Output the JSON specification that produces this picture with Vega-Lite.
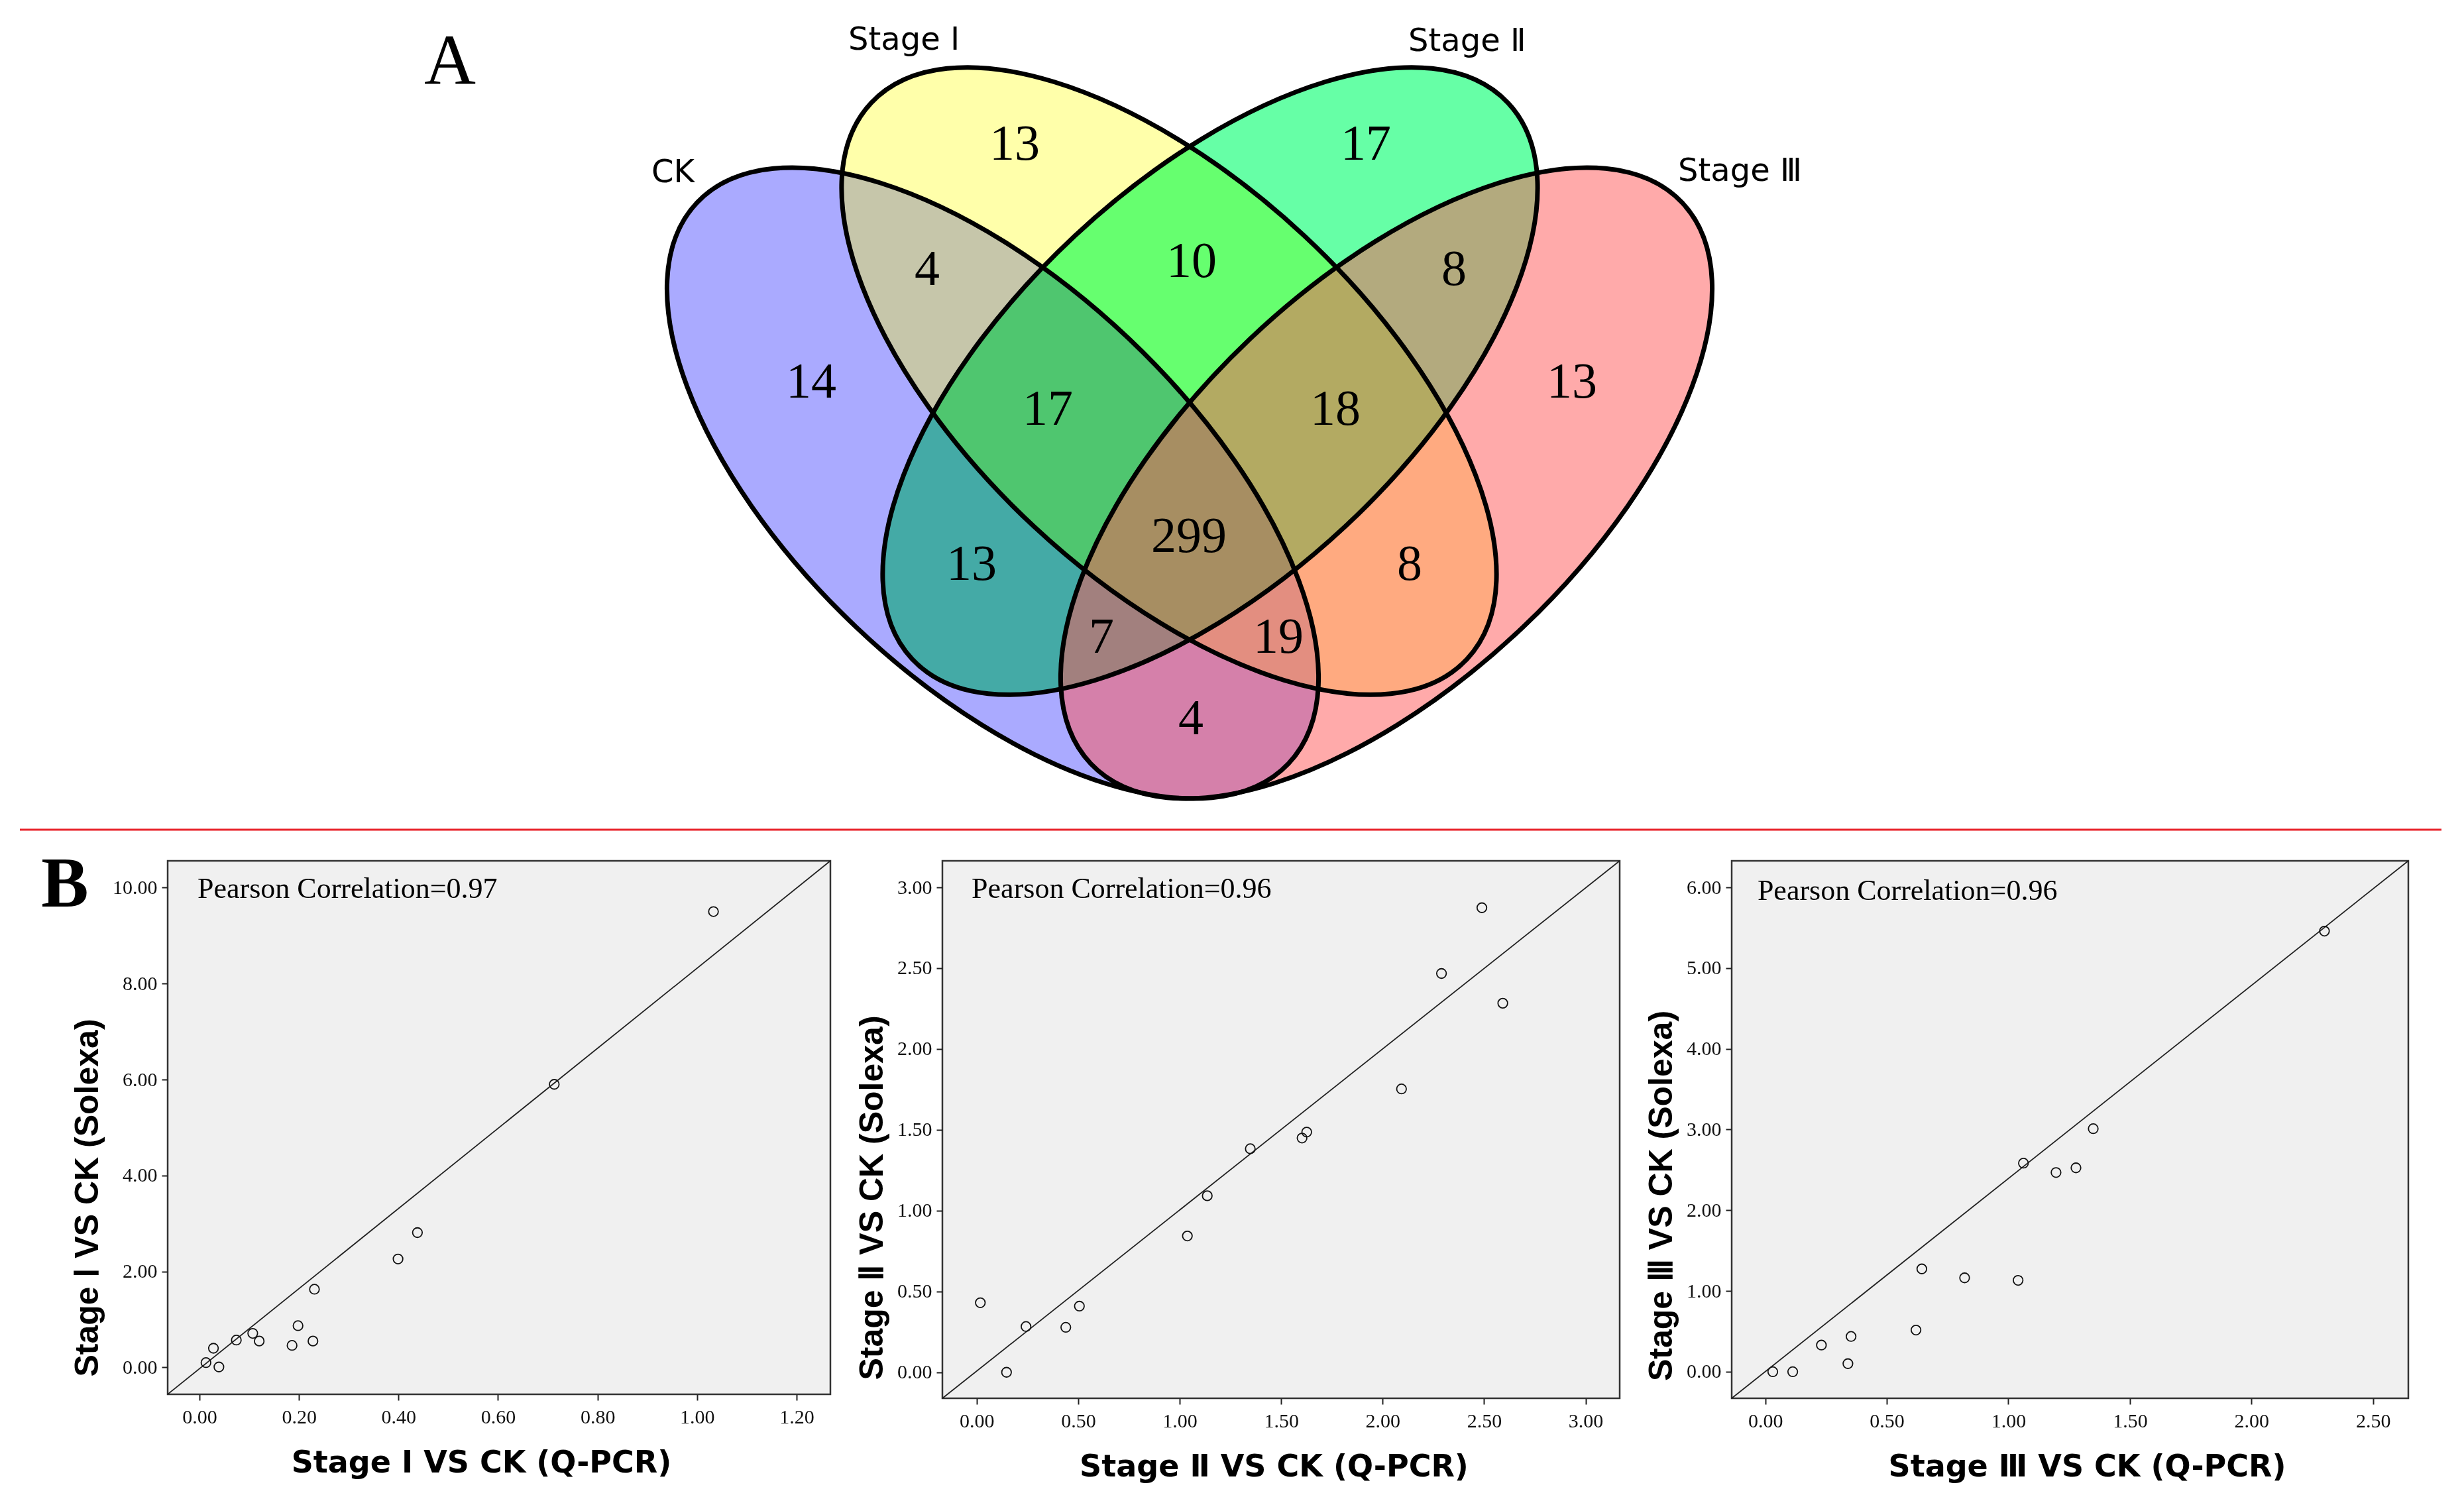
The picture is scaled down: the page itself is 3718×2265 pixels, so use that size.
{
  "$schema": "https://vega.github.io/schema/vega-lite/v6.json",
  "background": "white",
  "padding": {"left": 28, "top": 0, "right": 0, "bottom": 0},
  "spacing": 23,
  "datasets": {
    "sets": [
      {"set": "CK", "cx": -2.97, "cy": -0.79, "tilt": 43.5, "lx": -8.12, "ly": 3.75},
      {"set": "Stage Ⅰ", "cx": -0.31, "cy": 0.75, "tilt": 43, "lx": -5.15, "ly": 5.75},
      {"set": "Stage Ⅱ", "cx": 0.31, "cy": 0.75, "tilt": 317, "lx": 3.3, "ly": 5.73},
      {"set": "Stage Ⅲ", "cx": 2.97, "cy": -0.79, "tilt": 316.5, "lx": 7.37, "ly": 3.77}
    ],
    "regions": [
      {"count": 13, "rx": -2.64, "ry": 4.32},
      {"count": 17, "rx": 2.66, "ry": 4.32},
      {"count": 4, "rx": -3.96, "ry": 2.43},
      {"count": 10, "rx": 0.03, "ry": 2.55},
      {"count": 8, "rx": 3.99, "ry": 2.43},
      {"count": 14, "rx": -5.71, "ry": 0.73},
      {"count": 13, "rx": 5.77, "ry": 0.73},
      {"count": 17, "rx": -2.14, "ry": 0.32},
      {"count": 18, "rx": 2.2, "ry": 0.32},
      {"count": 299, "rx": -0.01, "ry": -1.6},
      {"count": 13, "rx": -3.29, "ry": -2.02},
      {"count": 8, "rx": 3.32, "ry": -2.02},
      {"count": 7, "rx": -1.33, "ry": -3.12},
      {"count": 19, "rx": 1.34, "ry": -3.12},
      {"count": 4, "rx": 0.02, "ry": -4.35}
    ],
    "p1": [
      {"qpcr": 1.033, "solexa": 9.5}, {"qpcr": 0.713, "solexa": 5.9}, {"qpcr": 0.438, "solexa": 2.81},
      {"qpcr": 0.399, "solexa": 2.26}, {"qpcr": 0.231, "solexa": 1.63}, {"qpcr": 0.198, "solexa": 0.87},
      {"qpcr": 0.107, "solexa": 0.71}, {"qpcr": 0.074, "solexa": 0.57}, {"qpcr": 0.12, "solexa": 0.55},
      {"qpcr": 0.186, "solexa": 0.46}, {"qpcr": 0.228, "solexa": 0.55}, {"qpcr": 0.028, "solexa": 0.4},
      {"qpcr": 0.013, "solexa": 0.1}, {"qpcr": 0.039, "solexa": 0.01}
    ],
    "p2": [
      {"qpcr": 0.018, "solexa": 0.43}, {"qpcr": 0.147, "solexa": 0.0}, {"qpcr": 0.243, "solexa": 0.283},
      {"qpcr": 0.439, "solexa": 0.278}, {"qpcr": 0.506, "solexa": 0.409}, {"qpcr": 1.038, "solexa": 0.843},
      {"qpcr": 1.136, "solexa": 1.092}, {"qpcr": 1.348, "solexa": 1.383}, {"qpcr": 1.603, "solexa": 1.449},
      {"qpcr": 1.626, "solexa": 1.486}, {"qpcr": 2.093, "solexa": 1.753}, {"qpcr": 2.29, "solexa": 2.467},
      {"qpcr": 2.489, "solexa": 2.874}, {"qpcr": 2.592, "solexa": 2.283}
    ],
    "p3": [
      {"qpcr": 0.031, "solexa": 0.0}, {"qpcr": 0.113, "solexa": 0.0}, {"qpcr": 0.231, "solexa": 0.33},
      {"qpcr": 0.34, "solexa": 0.1}, {"qpcr": 0.353, "solexa": 0.437}, {"qpcr": 0.62, "solexa": 0.516},
      {"qpcr": 0.644, "solexa": 1.274}, {"qpcr": 0.82, "solexa": 1.163}, {"qpcr": 1.04, "solexa": 1.132},
      {"qpcr": 1.062, "solexa": 2.584}, {"qpcr": 1.196, "solexa": 2.468}, {"qpcr": 1.278, "solexa": 2.526},
      {"qpcr": 1.349, "solexa": 3.011}, {"qpcr": 2.3, "solexa": 5.458}
    ]
  },
  "vconcat": [
    {
      "width": 3467,
      "height": 1258,
      "view": {"stroke": null},
      "layer": [
        {
          "data": {"name": "sets"},
          "transform": [{"filter": {"field": "set", "equal": "CK"}}],
          "mark": {"type": "point", "shape": "M 1 0 C 1 0.2690 0.5523 0.487 0 0.487 C -0.5523 0.487 -1 0.2690 -1 0 C -1 -0.2690 -0.5523 -0.487 0 -0.487 C 0.5523 -0.487 1 -0.2690 1 0 Z", "size": 1512900, "filled": true, "fill": "#0000ff", "fillOpacity": 0.3333, "strokeWidth": 0, "opacity": 1},
          "encoding": {
            "x": {"field": "cx", "type": "quantitative", "scale": {"domain": [-15.42, 19.25], "nice": false, "zero": false}, "axis": null},
            "y": {"field": "cy", "type": "quantitative", "scale": {"domain": [-6.08, 6.5], "nice": false, "zero": false}, "axis": null},
            "angle": {"field": "tilt", "type": "quantitative", "scale": null}
          }
        },
        {
          "data": {"name": "sets"},
          "transform": [{"filter": {"field": "set", "equal": "Stage Ⅰ"}}],
          "mark": {"type": "point", "shape": "M 1 0 C 1 0.2690 0.5523 0.487 0 0.487 C -0.5523 0.487 -1 0.2690 -1 0 C -1 -0.2690 -0.5523 -0.487 0 -0.487 C 0.5523 -0.487 1 -0.2690 1 0 Z", "size": 1512900, "filled": true, "fill": "#ffff00", "fillOpacity": 0.3333, "strokeWidth": 0, "opacity": 1},
          "encoding": {
            "x": {"field": "cx", "type": "quantitative", "scale": {"domain": [-15.42, 19.25], "nice": false, "zero": false}, "axis": null},
            "y": {"field": "cy", "type": "quantitative", "scale": {"domain": [-6.08, 6.5], "nice": false, "zero": false}, "axis": null},
            "angle": {"field": "tilt", "type": "quantitative", "scale": null}
          }
        },
        {
          "data": {"name": "sets"},
          "transform": [{"filter": {"field": "set", "equal": "Stage Ⅱ"}}],
          "mark": {"type": "point", "shape": "M 1 0 C 1 0.2690 0.5523 0.487 0 0.487 C -0.5523 0.487 -1 0.2690 -1 0 C -1 -0.2690 -0.5523 -0.487 0 -0.487 C 0.5523 -0.487 1 -0.2690 1 0 Z", "size": 1512900, "filled": true, "fill": "#66ffa6", "fillOpacity": 1, "blend": "multiply", "strokeWidth": 0, "opacity": 1},
          "encoding": {
            "x": {"field": "cx", "type": "quantitative", "scale": {"domain": [-15.42, 19.25], "nice": false, "zero": false}, "axis": null},
            "y": {"field": "cy", "type": "quantitative", "scale": {"domain": [-6.08, 6.5], "nice": false, "zero": false}, "axis": null},
            "angle": {"field": "tilt", "type": "quantitative", "scale": null}
          }
        },
        {
          "data": {"name": "sets"},
          "transform": [{"filter": {"field": "set", "equal": "Stage Ⅲ"}}],
          "mark": {"type": "point", "shape": "M 1 0 C 1 0.2690 0.5523 0.487 0 0.487 C -0.5523 0.487 -1 0.2690 -1 0 C -1 -0.2690 -0.5523 -0.487 0 -0.487 C 0.5523 -0.487 1 -0.2690 1 0 Z", "size": 1512900, "filled": true, "fill": "#ff5555", "fillOpacity": 0.5, "strokeWidth": 0, "opacity": 1},
          "encoding": {
            "x": {"field": "cx", "type": "quantitative", "scale": {"domain": [-15.42, 19.25], "nice": false, "zero": false}, "axis": null},
            "y": {"field": "cy", "type": "quantitative", "scale": {"domain": [-6.08, 6.5], "nice": false, "zero": false}, "axis": null},
            "angle": {"field": "tilt", "type": "quantitative", "scale": null}
          }
        },
        {
          "data": {"name": "sets"},
          "mark": {"type": "point", "shape": "M 1 0 C 1 0.2690 0.5523 0.487 0 0.487 C -0.5523 0.487 -1 0.2690 -1 0 C -1 -0.2690 -0.5523 -0.487 0 -0.487 C 0.5523 -0.487 1 -0.2690 1 0 Z", "size": 1512900, "filled": false, "stroke": "#000000", "strokeWidth": 7, "opacity": 1},
          "encoding": {
            "x": {"field": "cx", "type": "quantitative", "scale": {"domain": [-15.42, 19.25], "nice": false, "zero": false}, "axis": null},
            "y": {"field": "cy", "type": "quantitative", "scale": {"domain": [-6.08, 6.5], "nice": false, "zero": false}, "axis": null},
            "angle": {"field": "tilt", "type": "quantitative", "scale": null}
          }
        },
        {
          "data": {"name": "regions"},
          "mark": {"type": "text", "font": "Liberation Serif", "fontSize": 76, "align": "center", "baseline": "middle", "color": "#000000"},
          "encoding": {
            "x": {"field": "rx", "type": "quantitative", "scale": {"domain": [-15.42, 19.25], "nice": false, "zero": false}, "axis": null},
            "y": {"field": "ry", "type": "quantitative", "scale": {"domain": [-6.08, 6.5], "nice": false, "zero": false}, "axis": null},
            "text": {"field": "count", "type": "quantitative"}
          }
        },
        {
          "data": {"name": "sets"},
          "mark": {"type": "text", "font": "DejaVu Sans", "fontSize": 48, "align": "left", "baseline": "alphabetic", "color": "#000000"},
          "encoding": {
            "x": {"field": "lx", "type": "quantitative", "scale": {"domain": [-15.42, 19.25], "nice": false, "zero": false}, "axis": null},
            "y": {"field": "ly", "type": "quantitative", "scale": {"domain": [-6.08, 6.5], "nice": false, "zero": false}, "axis": null},
            "text": {"field": "set", "type": "nominal"}
          }
        },
        {
          "data": {"values": [{"label": "A"}]},
          "mark": {"type": "text", "font": "Liberation Serif", "fontSize": 108, "align": "left", "baseline": "alphabetic", "color": "#000000"},
          "encoding": {
            "x": {"datum": -11.55, "type": "quantitative", "scale": {"domain": [-15.42, 19.25], "nice": false, "zero": false}, "axis": null},
            "y": {"datum": 5.23, "type": "quantitative", "scale": {"domain": [-6.08, 6.5], "nice": false, "zero": false}, "axis": null},
            "text": {"field": "label", "type": "nominal"}
          }
        },
        {
          "data": {"values": [{}]},
          "mark": {"type": "rule", "color": "#e8232b", "strokeWidth": 3},
          "encoding": {
            "x": {"datum": -17.65, "type": "quantitative", "scale": {"domain": [-15.42, 19.25], "nice": false, "zero": false}, "axis": null},
            "x2": {"datum": 18.89},
            "y": {"datum": -6.02, "type": "quantitative", "scale": {"domain": [-6.08, 6.5], "nice": false, "zero": false}, "axis": null}
          }
        }
      ]
    },
    {
      "hconcat": [
        {
          "width": 1000,
          "height": 805,
          "view": {"fill": "#f0f0f0", "stroke": "#333333", "strokeWidth": 2.5},
          "layer": [
            {
              "data": {"values": [{}]},
              "mark": {"type": "rule", "color": "#222222", "strokeWidth": 1.8},
              "encoding": {
                "x": {"datum": -0.064, "type": "quantitative", "scale": {"domain": [-0.064, 1.268], "nice": false, "zero": false}},
                "y": {"datum": -0.56, "type": "quantitative", "scale": {"domain": [-0.56, 10.558], "nice": false, "zero": false}},
                "x2": {"datum": 1.268},
                "y2": {"datum": 10.558}
              }
            },
            {
              "data": {"name": "p1"},
              "mark": {"type": "point", "shape": "circle", "filled": false, "stroke": "#111111", "strokeWidth": 1.8, "size": 210, "opacity": 1},
              "encoding": {
                "x": {"field": "qpcr", "type": "quantitative", "scale": {"domain": [-0.064, 1.268], "nice": false, "zero": false},
                  "axis": {"title": "Stage Ⅰ VS CK (Q-PCR)", "values": [0, 0.2, 0.4, 0.6, 0.8, 1.0, 1.2], "format": ".2f", "titleX": 473}},
                "y": {"field": "solexa", "type": "quantitative", "scale": {"domain": [-0.56, 10.558], "nice": false, "zero": false},
                  "axis": {"title": "Stage Ⅰ VS CK (Solexa)", "values": [0, 2, 4, 6, 8, 10], "format": ".2f", "titleY": 508}}
              }
            },
            {
              "data": {"values": [{"label": "Pearson Correlation=0.97"}]},
              "mark": {"type": "text", "font": "Liberation Serif", "fontSize": 44, "align": "left", "baseline": "alphabetic", "color": "#000000"},
              "encoding": {
                "x": {"datum": -0.004, "type": "quantitative", "scale": {"domain": [-0.064, 1.268], "nice": false, "zero": false}},
                "y": {"datum": 9.78, "type": "quantitative", "scale": {"domain": [-0.56, 10.558], "nice": false, "zero": false}},
                "text": {"field": "label", "type": "nominal"}
              }
            },
            {
              "data": {"values": [{"label": "B"}]},
              "mark": {"type": "text", "font": "Liberation Serif", "fontSize": 107, "fontWeight": "bold", "align": "left", "baseline": "alphabetic", "color": "#000000"},
              "encoding": {
                "x": {"datum": -0.318, "type": "quantitative", "scale": {"domain": [-0.064, 1.268], "nice": false, "zero": false}},
                "y": {"datum": 9.6, "type": "quantitative", "scale": {"domain": [-0.56, 10.558], "nice": false, "zero": false}},
                "text": {"field": "label", "type": "nominal"}
              }
            }
          ]
        },
        {
          "width": 1022,
          "height": 811,
          "view": {"fill": "#f0f0f0", "stroke": "#333333", "strokeWidth": 2.5},
          "layer": [
            {
              "data": {"values": [{}]},
              "mark": {"type": "rule", "color": "#222222", "strokeWidth": 1.8},
              "encoding": {
                "x": {"datum": -0.169, "type": "quantitative", "scale": {"domain": [-0.169, 3.168], "nice": false, "zero": false}},
                "y": {"datum": -0.161, "type": "quantitative", "scale": {"domain": [-0.161, 3.164], "nice": false, "zero": false}},
                "x2": {"datum": 3.168},
                "y2": {"datum": 3.164}
              }
            },
            {
              "data": {"name": "p2"},
              "mark": {"type": "point", "shape": "circle", "filled": false, "stroke": "#111111", "strokeWidth": 1.8, "size": 210, "opacity": 1},
              "encoding": {
                "x": {"field": "qpcr", "type": "quantitative", "scale": {"domain": [-0.169, 3.168], "nice": false, "zero": false},
                  "axis": {"title": "Stage Ⅱ VS CK (Q-PCR)", "values": [0, 0.5, 1, 1.5, 2, 2.5, 3], "format": ".2f", "titleX": 500}},
                "y": {"field": "solexa", "type": "quantitative", "scale": {"domain": [-0.161, 3.164], "nice": false, "zero": false},
                  "axis": {"title": "Stage Ⅱ VS CK (Solexa)", "values": [0, 0.5, 1, 1.5, 2, 2.5, 3], "format": ".2f", "titleY": 508}}
              }
            },
            {
              "data": {"values": [{"label": "Pearson Correlation=0.96"}]},
              "mark": {"type": "text", "font": "Liberation Serif", "fontSize": 44, "align": "left", "baseline": "alphabetic", "color": "#000000"},
              "encoding": {
                "x": {"datum": -0.025, "type": "quantitative", "scale": {"domain": [-0.169, 3.168], "nice": false, "zero": false}},
                "y": {"datum": 2.935, "type": "quantitative", "scale": {"domain": [-0.161, 3.164], "nice": false, "zero": false}},
                "text": {"field": "label", "type": "nominal"}
              }
            }
          ]
        },
        {
          "width": 1021,
          "height": 811,
          "view": {"fill": "#f0f0f0", "stroke": "#333333", "strokeWidth": 2.5},
          "layer": [
            {
              "data": {"values": [{}]},
              "mark": {"type": "rule", "color": "#222222", "strokeWidth": 1.8},
              "encoding": {
                "x": {"datum": -0.138, "type": "quantitative", "scale": {"domain": [-0.138, 2.645], "nice": false, "zero": false}},
                "y": {"datum": -0.329, "type": "quantitative", "scale": {"domain": [-0.329, 6.329], "nice": false, "zero": false}},
                "x2": {"datum": 2.645},
                "y2": {"datum": 6.329}
              }
            },
            {
              "data": {"name": "p3"},
              "mark": {"type": "point", "shape": "circle", "filled": false, "stroke": "#111111", "strokeWidth": 1.8, "size": 210, "opacity": 1},
              "encoding": {
                "x": {"field": "qpcr", "type": "quantitative", "scale": {"domain": [-0.138, 2.645], "nice": false, "zero": false},
                  "axis": {"title": "Stage Ⅲ VS CK (Q-PCR)", "values": [0, 0.5, 1, 1.5, 2, 2.5], "format": ".2f", "titleX": 536}},
                "y": {"field": "solexa", "type": "quantitative", "scale": {"domain": [-0.329, 6.329], "nice": false, "zero": false},
                  "axis": {"title": "Stage Ⅲ VS CK (Solexa)", "values": [0, 1, 2, 3, 4, 5, 6], "format": ".2f", "titleY": 505}}
              }
            },
            {
              "data": {"values": [{"label": "Pearson Correlation=0.96"}]},
              "mark": {"type": "text", "font": "Liberation Serif", "fontSize": 44, "align": "left", "baseline": "alphabetic", "color": "#000000"},
              "encoding": {
                "x": {"datum": -0.032, "type": "quantitative", "scale": {"domain": [-0.138, 2.645], "nice": false, "zero": false}},
                "y": {"datum": 5.845, "type": "quantitative", "scale": {"domain": [-0.329, 6.329], "nice": false, "zero": false}},
                "text": {"field": "label", "type": "nominal"}
              }
            }
          ]
        }
      ],
      "spacing": 169,
      "bounds": "flush"
    }
  ],
  "config": {
    "view": {"stroke": null},
    "axis": {
      "domain": false,
      "grid": false,
      "ticks": true,
      "tickColor": "#222222",
      "tickWidth": 2,
      "tickSize": 9,
      "labelFont": "Liberation Serif",
      "labelFontSize": 30,
      "labelColor": "#111111",
      "titleFontWeight": "bold",
      "titleColor": "#000000"
    },
    "axisX": {"labelPadding": 10, "titlePadding": 32, "titleFont": "DejaVu Sans", "titleFontSize": 46},
    "axisY": {"labelPadding": 7, "titlePadding": 12, "titleFont": "Liberation Sans", "titleFontSize": 50}
  }
}
